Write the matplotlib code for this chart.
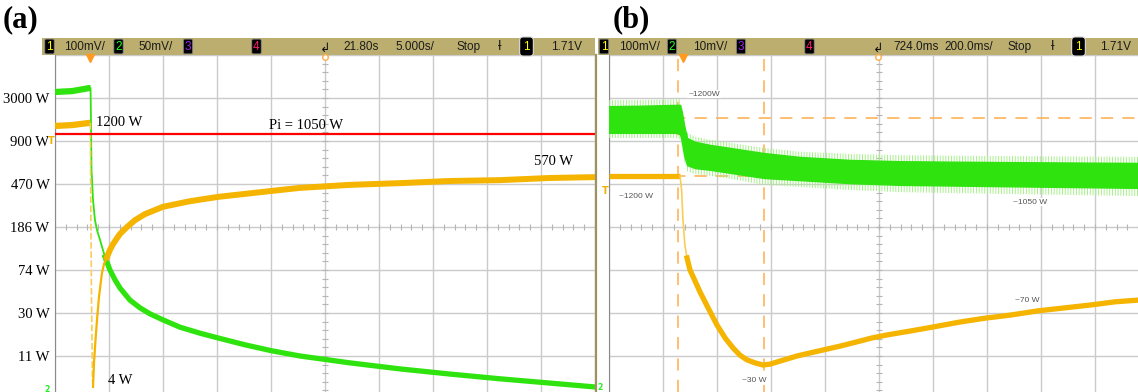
import matplotlib.pyplot as plt
import numpy as np
from matplotlib.patches import Rectangle

# Panel (a): 5 s/div, y in screen divisions (0 = bottom graticule line, 8 = top)
a_ytick_labels = ['11 W', '30 W', '74 W', '186 W', '470 W', '900 W', '3000 W']

a_green_t = [0, 1.57, 3.15, 3.29]
a_green_y = [7.14, 7.16, 7.23, 7.23]
a_green_drop_t = [3.29, 3.33, 3.38, 3.52, 3.70, 3.89, 4.17, 4.63]
a_green_drop_y = [7.23, 6.49, 5.33, 4.63, 4.16, 3.93, 3.70, 3.30]
a_green_decay_t = [4.63, 5.09, 5.56, 6.02, 6.94, 7.87, 8.80, 10.0, 11.57, 13.43, 15.09,
                   17.59, 20.09, 22.69, 27.31, 31.94, 36.57, 41.2, 45.83, 50]
a_green_decay_y = [3.30, 3.0, 2.77, 2.58, 2.30, 2.12, 1.98, 1.84, 1.67, 1.53, 1.42,
                   1.26, 1.12, 1.0, 0.84, 0.70, 0.58, 0.47, 0.37, 0.28]

a_orange_t = [0, 1.57, 3.15, 3.27]
a_orange_y = [6.35, 6.37, 6.42, 6.42]
a_orange_drop_t = [3.27, 3.31, 3.38, 3.47, 3.52]
a_orange_drop_y = [6.42, 4.63, 2.30, 0.44, 0.28]
a_orange_rise_t = [3.52, 3.61, 3.75, 3.89, 4.07, 4.35, 4.54, 4.81, 5.09]
a_orange_rise_y = [0.28, 0.84, 1.37, 1.84, 2.37, 2.93, 3.14, 3.30, 3.47]
a_orange_rec_t = [4.81, 5.09, 5.37, 5.74, 6.02, 6.67, 7.41, 8.33, 10.0, 12.5, 15.09,
                  17.59, 20.09, 22.69, 27.31, 31.94, 36.57, 41.2, 45.83, 50]
a_orange_rec_y = [3.30, 3.47, 3.60, 3.74, 3.84, 4.0, 4.16, 4.30, 4.47, 4.60, 4.70,
                  4.77, 4.84, 4.91, 4.98, 5.02, 5.07, 5.09, 5.14, 5.16]

pi_level = 6.16

# Panel (b): 200 ms/div
b_green_t = [0, 0.115, 0.248, 0.263, 0.270, 0.278, 0.289, 0.319, 0.374,
             0.448, 0.574, 0.707, 0.893, 1.078, 1.448, 1.96]
b_green_hi = [6.81, 6.82, 6.84, 6.84, 6.67, 6.37, 6.07, 5.98, 5.91,
              5.84, 5.72, 5.63, 5.56, 5.53, 5.51, 5.49]
b_green_lo = [6.19, 6.19, 6.19, 6.16, 5.98, 5.67, 5.44, 5.37, 5.33,
              5.26, 5.14, 5.09, 5.02, 4.98, 4.95, 4.91]
# reach of the noise spikes around the band
b_spike_hi = [6.95, 6.95, 6.97, 6.97, 6.80, 6.50, 6.20, 6.10, 6.03,
              5.96, 5.84, 5.75, 5.70, 5.67, 5.65, 5.63]
b_spike_lo = [6.07, 6.07, 6.07, 6.05, 5.86, 5.55, 5.30, 5.23, 5.19,
              5.12, 4.98, 4.93, 4.86, 4.81, 4.77, 4.72]

b_orange_t = [0, 0.263]
b_orange_y = [5.19, 5.19]
b_orange_drop_t = [0.263, 0.269, 0.274, 0.281, 0.289, 0.300]
b_orange_drop_y = [5.19, 4.86, 4.16, 3.58, 3.28, 3.0]
b_orange_curve_t = [0.289, 0.300, 0.319, 0.337, 0.367, 0.400, 0.430, 0.459, 0.485, 0.511,
                    0.541, 0.570, 0.596, 0.622, 0.659, 0.696, 0.744, 0.793, 0.856, 0.919,
                    0.974, 1.030, 1.115, 1.196, 1.300, 1.393, 1.485, 1.589, 1.689, 1.789,
                    1.874, 1.96]
b_orange_curve_y = [3.28, 3.0, 2.74, 2.49, 2.12, 1.72, 1.42, 1.19, 1.02, 0.91,
                    0.84, 0.79, 0.81, 0.86, 0.93, 1.0, 1.07, 1.14, 1.23, 1.33,
                    1.42, 1.49, 1.58, 1.67, 1.79, 1.88, 1.95, 2.05, 2.12, 2.19,
                    2.26, 2.30]

b_cursor_t = [0.256, 0.574]
b_cursor_y = [6.53, 5.19]

W, H = 1138, 392
GREEN = '#2fe30f'
GREEN_EDGE = '#a6f08a'
ORANGE = '#f4b400'
ORANGE_THIN = '#f8cd5a'
GRID = '#cbcbcb'
SERIF = ['Liberation Serif', 'DejaVu Serif']
SANS = ['Liberation Sans', 'DejaVu Sans']
plt.rcParams['hatch.linewidth'] = 0.7

fig = plt.figure(figsize=(W / 100, H / 100), dpi=100)


def px_axes(x0, y0, x1, y1):
    return fig.add_axes([x0 / W, 1 - y1 / H, (x1 - x0) / W, (y1 - y0) / H])


def scope_grid(ax, xdiv, ndiv_x, ylabels=None):
    ax.set_xticks(np.arange(0, 11) * xdiv)
    if ylabels is None:
        ax.set_yticks(np.arange(0, 9))
        ax.tick_params(labelleft=False)
    else:
        ax.set_yticks(np.arange(0, 9), labels=[''] + ylabels + [''])
    # limits after the ticks so the ticks do not widen the view
    ax.set_xlim(0, ndiv_x * xdiv)
    ax.set_ylim(8 - 337 / 43, 8)
    ax.grid(True, color=GRID, lw=1)
    ax.set_axisbelow(True)
    ax.tick_params(length=0, labelbottom=False)
    # small ticks on the centre lines
    ax.plot(np.arange(0, 10.01, 0.2) * xdiv, np.full(51, 4.0), ls='none',
            marker='|', ms=5, color='#b5b5b5', mew=0.8)
    ax.plot(np.full(41, 5 * xdiv), np.arange(0, 8.01, 0.2), ls='none',
            marker='_', ms=5, color='#b5b5b5', mew=0.8)
    for s in ['top', 'bottom', 'right']:
        ax.spines[s].set_visible(False)
    ax.spines['left'].set_color('#8a8a8a')


# ---------------- panel (a)
ax_a = px_axes(55, 55, 595, 392)
scope_grid(ax_a, 5.0, 10, a_ytick_labels)
ax_a.tick_params(axis='y', pad=4)
for lab in ax_a.get_yticklabels():
    lab.set_fontfamily(SERIF)
    lab.set_fontsize(10.5)

ax_a.axhline(pi_level, color='#ff0000', lw=1.6, zorder=4)
ax_a.plot(a_green_t, a_green_y, color=GREEN, lw=4.5, solid_capstyle='butt', zorder=3)
ax_a.plot(a_green_drop_t, a_green_drop_y, color=GREEN, lw=1.3, zorder=3)
ax_a.plot(a_green_decay_t, a_green_decay_y, color=GREEN, lw=3.8, zorder=3)
ax_a.plot(a_orange_t, a_orange_y, color=ORANGE, lw=4.5, solid_capstyle='butt', zorder=3)
ax_a.plot(a_orange_drop_t, a_orange_drop_y, color=ORANGE_THIN, lw=1.2, ls=(0, (4, 1.5)), zorder=3)
ax_a.plot(a_orange_rise_t, a_orange_rise_y, color=ORANGE, lw=1.6, zorder=3)
ax_a.plot(a_orange_rec_t, a_orange_rec_y, color=ORANGE, lw=4.3, zorder=3)

ax_a.text(3.8, 6.44, '1200 W', family=SERIF, fontsize=10.5, va='center', ha='left')
ax_a.text(23.2, 6.37, 'Pi = 1050 W', family=SERIF, fontsize=10.5, va='center', ha='center')
ax_a.text(46.2, 5.53, '570 W', family=SERIF, fontsize=10.5, va='center', ha='center')
ax_a.text(6.0, 0.42, '4 W', family=SERIF, fontsize=10.5, va='center', ha='center')

# ---------------- panel (b)
ax_b = px_axes(609, 55, 1138, 392)
scope_grid(ax_b, 0.2, 529 / 54)
for t in b_cursor_t:
    ax_b.axvline(t, color='#ffad4d', lw=1.1, ls=(0, (8, 6)), zorder=2)
for y in b_cursor_y:
    ax_b.axhline(y, color='#ffad4d', lw=1.1, ls=(0, (8, 6)), zorder=2)

ax_b.fill_between(b_green_t, b_spike_lo, b_spike_hi, facecolor='none',
                  edgecolor=GREEN_EDGE, hatch='||||||', lw=0, zorder=3)
ax_b.fill_between(b_green_t, b_green_lo, b_green_hi, facecolor=GREEN,
                  edgecolor=GREEN, lw=1.0, zorder=3)
ax_b.plot(b_orange_t, b_orange_y, color=ORANGE, lw=3.8, solid_capstyle='butt', zorder=3)
ax_b.plot(b_orange_drop_t, b_orange_drop_y, color=ORANGE_THIN, lw=1.2, zorder=3)
ax_b.plot(b_orange_curve_t, b_orange_curve_y, color=ORANGE, lw=3.8, zorder=3)

small = dict(family=SANS, fontsize=6, color='#555555', va='center', ha='center',
             bbox=dict(fc='white', ec='none', pad=0.6), zorder=5)
ax_b.text(0.352, 7.09, '~1200W', **small)
ax_b.text(0.100, 4.70, '~1200 W', **small)
ax_b.text(1.559, 4.58, '~1050 W', **small)
ax_b.text(1.548, 2.28, '~70 W', **small)
ax_b.text(0.537, 0.42, '~30 W', **small)

# ---------------- overlay: status bars, panel letters, screen markers
ov = fig.add_axes([0, 0, 1, 1])
ov.set_xlim(0, W)
ov.set_ylim(H, 0)
ov.axis('off')
ov.set_zorder(10)

ov.plot([596, 596], [55, 392], color='#9c9262', lw=1.6)

ov.text(3, 20, '(a)', family=SERIF, fontweight='bold', fontsize=22, va='center', ha='left')
ov.text(613, 20, '(b)', family=SERIF, fontweight='bold', fontsize=22, va='center', ha='left')

ch_colors = {'1': '#ffff00', '2': '#22ff22', '3': '#a020f0', '4': '#ff1a6e'}


def status_bar(x0, x1, boxes, labels, trig_x):
    ov.add_patch(Rectangle((x0, 38), x1 - x0, 17, fc='#bcae6f', ec='none'))
    for x, ch in boxes:
        ov.text(x, 46.5, ch, family=SANS, fontsize=8.5, color=ch_colors[ch],
                ha='center', va='center',
                bbox=dict(boxstyle='round,pad=0.12', fc='black', ec='#8a8a8a', lw=0.6))
    for x, s in labels:
        ov.text(x, 46.5, s, family=SANS, fontsize=8.5, color='#1b1b1b', ha='left', va='center')
    ov.text(trig_x, 48, '\u21b2', fontsize=9, color='#111111', ha='center', va='center')
    ov.plot(trig_x, 57, marker='o', ms=4, mfc='white', mec='#ffad4d', mew=1)


status_bar(42, 595,
           [(49.5, '1'), (118.5, '2'), (188, '3'), (256.5, '4')],
           [(64, '100mV/'), (138, '50mV/'), (343, '21.80s'), (395, '5.000s/'),
            (457, 'Stop'), (551, '1.71V')], 325)
status_bar(598, 1138,
           [(604, '1'), (672, '2'), (741, '3'), (809.5, '4')],
           [(619, '100mV/'), (693, '10mV/'), (893, '724.0ms'), (944, '200.0ms/'),
            (1008, 'Stop'), (1100, '1.71V')], 878)

for x in (500, 1053):
    ov.text(x, 46.5, '\u019a', family=['DejaVu Sans'], fontsize=9, color='#1b1b1b',
            ha='center', va='center')
for x in (526.5, 1078.5):
    ov.text(x, 46.5, '1', family=SANS, fontsize=8.5, color='#ffff00', ha='center', va='center',
            bbox=dict(boxstyle='round,pad=0.3', fc='black', ec='#dddddd', lw=0.8))

# trigger-position markers and level markers
ov.plot([90, 683], [57.5, 57.5], ls='none', marker='v', ms=6, color='#ff9a1f')
ov.text(51, 141, 'T', fontsize=7, color='#f0b000', fontweight='bold', ha='center', va='center')
ov.text(605, 191, 'T', fontsize=7, color='#f0b000', fontweight='bold', ha='center', va='center')
ov.text(47, 389, '2', fontsize=5.5, color='#22ee22', fontweight='bold', ha='center', va='center')
ov.text(600, 388, '2', fontsize=5.5, color='#22ee22', fontweight='bold', ha='center', va='center')

fig.savefig('out.png', dpi=100)
